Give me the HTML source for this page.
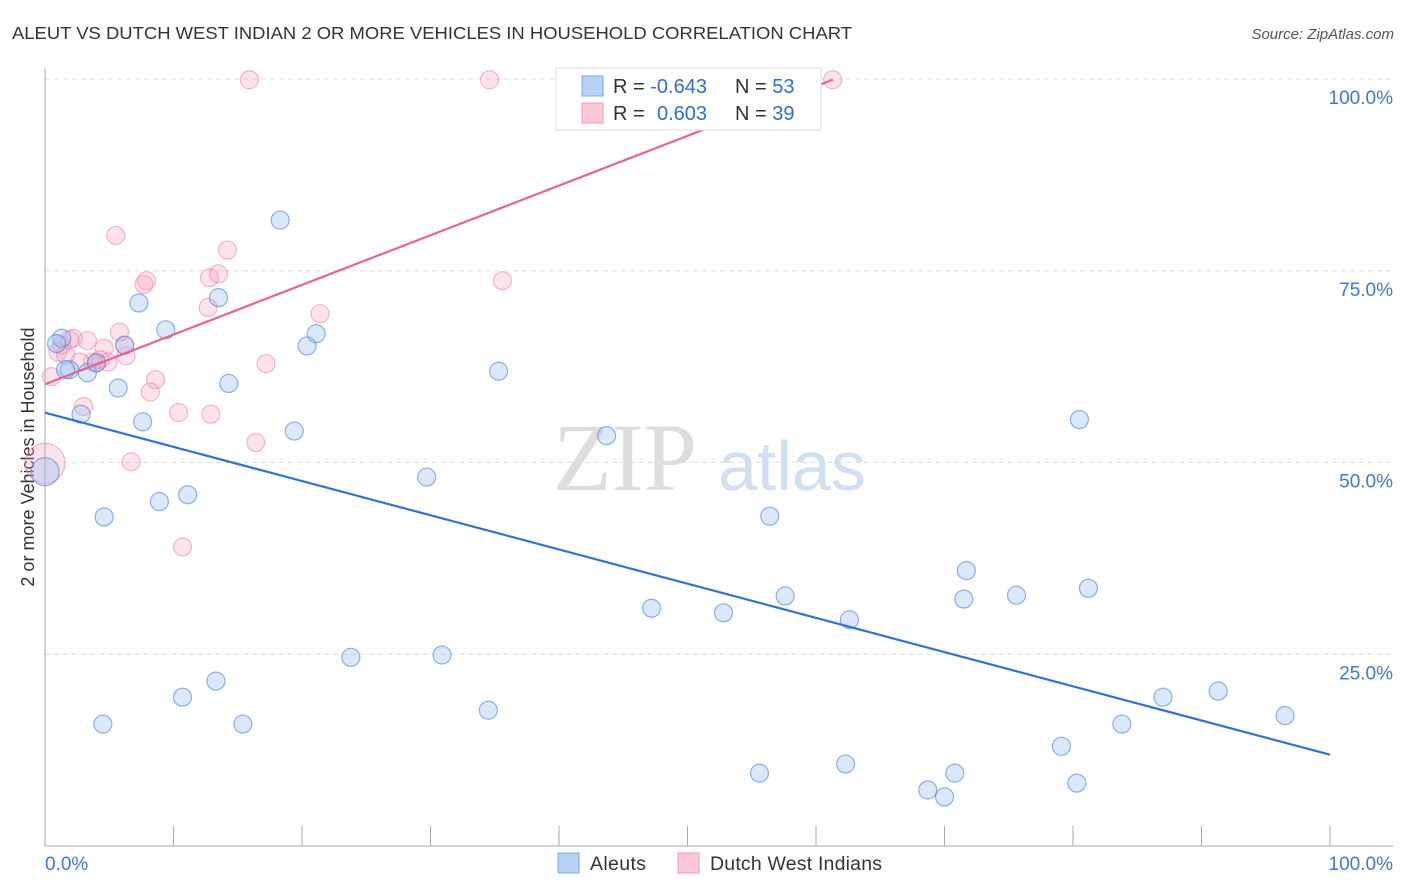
<!DOCTYPE html>
<html><head><meta charset="utf-8">
<style>
body{margin:0;background:#fff;font-family:"Liberation Sans",sans-serif;}
#wrap{position:relative;width:1406px;height:892px;overflow:hidden;}
</style></head>
<body><div id="wrap">
<svg id="svg" width="1406" height="892" xmlns="http://www.w3.org/2000/svg">
<text x="12" y="39" font-size="17.5" fill="#333" textLength="840" lengthAdjust="spacingAndGlyphs">ALEUT VS DUTCH WEST INDIAN 2 OR MORE VEHICLES IN HOUSEHOLD CORRELATION CHART</text>
<text x="1394" y="39" font-size="15" fill="#555" font-style="italic" text-anchor="end">Source: ZipAtlas.com</text>
<text transform="translate(34,457) rotate(-90)" font-size="18" fill="#333" text-anchor="middle">2 or more Vehicles in Household</text>
<g>
<text x="553" y="490" font-family="Liberation Serif,serif" font-size="96" fill="#ddd">ZIP</text>
<text x="718" y="490" font-size="70" fill="#cfe0f3">atlas</text>
</g>
<g id="grid"></g><g id="axes"></g><g id="pts"></g><g id="lines"></g>
<g>
<rect x="556" y="68" width="265" height="62" fill="#fff" stroke="#ddd"/>
<rect x="582" y="76" width="21" height="20" fill="#b8d2f5" stroke="#7fa8e0"/>
<rect x="582" y="103" width="21" height="20" fill="#fbc8d7" stroke="#f09ab4"/>
<text x="613" y="93" font-size="20" fill="#333">R = <tspan fill="#2f6fd1">-0.643</tspan><tspan x="735">N = </tspan><tspan fill="#2f6fd1">53</tspan></text>
<text x="613" y="120" font-size="20" fill="#333">R = <tspan fill="#2f6fd1" x="657">0.603</tspan><tspan x="735">N = </tspan><tspan fill="#2f6fd1">39</tspan></text>
</g>
<g>
<rect x="558" y="853" width="21" height="20" fill="#b8d2f5" stroke="#7fa8e0"/>
<text x="590" y="870" font-size="19.5" fill="#333" textLength="56">Aleuts</text>
<rect x="678" y="853" width="21" height="20" fill="#fbc8d7" stroke="#f09ab4"/>
<text x="710" y="870" font-size="19.5" fill="#333" textLength="172">Dutch West Indians</text>
</g>
</svg></div>
<script>
const blueX=[18.3,7.3,13.5,9.4,1.3,0.9,6.2,20.4,21.1,1.9,3.3,4.0,5.7,14.3,35.3,2.8,7.6,19.4,43.7,80.5,0,29.7,8.9,11.1,4.6,56.4,71.7,81.2,47.2,52.8,57.6,62.6,71.5,75.6,23.8,30.9,10.7,13.3,87.0,91.3,4.5,15.4,34.5,96.5,83.8,79.1,55.6,62.3,70.8,68.7,70.0,80.3,1.6];
const blueY=[81.6,70.8,71.5,67.3,66.2,65.5,65.3,65.2,66.8,62.1,61.7,63.0,59.7,60.3,61.9,56.3,55.3,54.1,53.5,55.6,48.8,48.1,44.9,45.8,42.9,43.0,35.9,33.6,31.0,30.4,32.6,29.5,32.2,32.7,24.6,24.9,19.4,21.5,19.4,20.2,15.9,15.9,17.7,17.0,15.9,13.0,9.5,10.7,9.5,7.3,6.4,8.2,62.1];
const blueR=[9,9,9,9,9,9,9,9,9,9,9,9,9,9,9,9,9,9,9,9,14,9,9,9,9,9,9,9,9,9,9,9,9,9,9,9,9,9,9,9,9,9,9,9,9,9,9,9,9,9,9,9,9];
const pinkX=[15.9,34.6,61.3,5.5,14.2,7.9,7.7,12.8,13.5,35.6,12.7,21.4,5.8,2.2,3.3,1.0,1.6,4.6,6.3,3.7,4.9,4.3,2.7,17.2,0.5,8.6,8.2,3.0,10.4,12.9,16.4,6.7,0,10.7,1.3,1.9,6.2,4.0];
const pinkY=[99.9,99.9,99.9,79.6,77.7,73.7,73.2,74.1,74.6,73.7,70.2,69.4,67.0,66.2,65.9,64.4,64.0,64.9,63.9,63.1,63.1,63.4,63.1,62.9,61.2,60.8,59.2,57.3,56.5,56.3,52.6,50.1,49.9,39.0,65.3,66.0,65.3,63.0];
const pinkR=[9,9,9,9,9,9,9,9,9,9,9,9,9,9,9,9,9,9,9,9,9,9,9,9,9,9,9,9,9,9,9,9,20,9,9,9,9,9];
const blueTrend=[56.5,11.9];
const pinkTrend=[60.2,99.9,61.3];
const yTicks=[25,50,75,100];
const yTickLabels=["25.0%","50.0%","75.0%","100.0%"];
const xTickLabels=["0.0%","100.0%"];
const NS="http://www.w3.org/2000/svg";
const sx=v=>45+v*12.85, sy=v=>846-v*7.67;
function mk(tag,attrs,parent){const e=document.createElementNS(NS,tag);for(const k in attrs)e.setAttribute(k,attrs[k]);document.getElementById(parent).appendChild(e);return e;}
yTicks.forEach((t,i)=>{
 const g=mk('line',{x1:45,x2:1393,y1:sy(t),y2:sy(t),stroke:'#ddd','stroke-dasharray':'5,4'},'grid');
 
 
 const l=mk('text',{x:1393,y:sy(t)+25,'font-size':19,fill:'#3d78d8','text-anchor':'end'},'grid');
 l.textContent=yTickLabels[i];
 
 
});
const ax=mk('line',{x1:45,x2:1393,y1:846,y2:846,stroke:'#aaa'},'axes');


const ay=mk('line',{x1:45,x2:45,y1:68,y2:846,stroke:'#aaa'},'axes');


for(let i=1;i<=10;i++){
 const t=mk('line',{x1:sx(i*10),x2:sx(i*10),y1:826,y2:846,stroke:'#aaa'},'axes');
 
 
}
[[45,'start'],[1393,'end']].forEach((p,i)=>{
 const t=mk('text',{x:p[0],y:870,'font-size':19,fill:'#3d78d8','text-anchor':p[1]},'axes');
 t.textContent=xTickLabels[i];
 
 
});
pinkX.forEach((x,i)=>{
 const c=mk('circle',{cx:sx(x),cy:sy(pinkY[i]),r:pinkR[i],fill:'rgba(246,160,188,0.3)',stroke:'rgba(236,130,165,0.55)','stroke-width':1.2},'pts');
 
 
});
blueX.forEach((x,i)=>{
 const c=mk('circle',{cx:sx(x),cy:sy(blueY[i]),r:blueR[i],fill:'rgba(150,188,240,0.35)',stroke:'rgba(70,130,220,0.6)','stroke-width':1.2},'pts');
 
 
});
const bl=mk('line',{x1:sx(0),y1:sy(blueTrend[0]),x2:sx(100),y2:sy(blueTrend[1]),stroke:'#2f72d6','stroke-width':2.2},'lines');


const pl=mk('line',{x1:sx(0),y1:sy(pinkTrend[0]),x2:sx(pinkTrend[2]),y2:sy(pinkTrend[1]),stroke:'#e8648f','stroke-width':2.2},'lines');


</script></body></html>
